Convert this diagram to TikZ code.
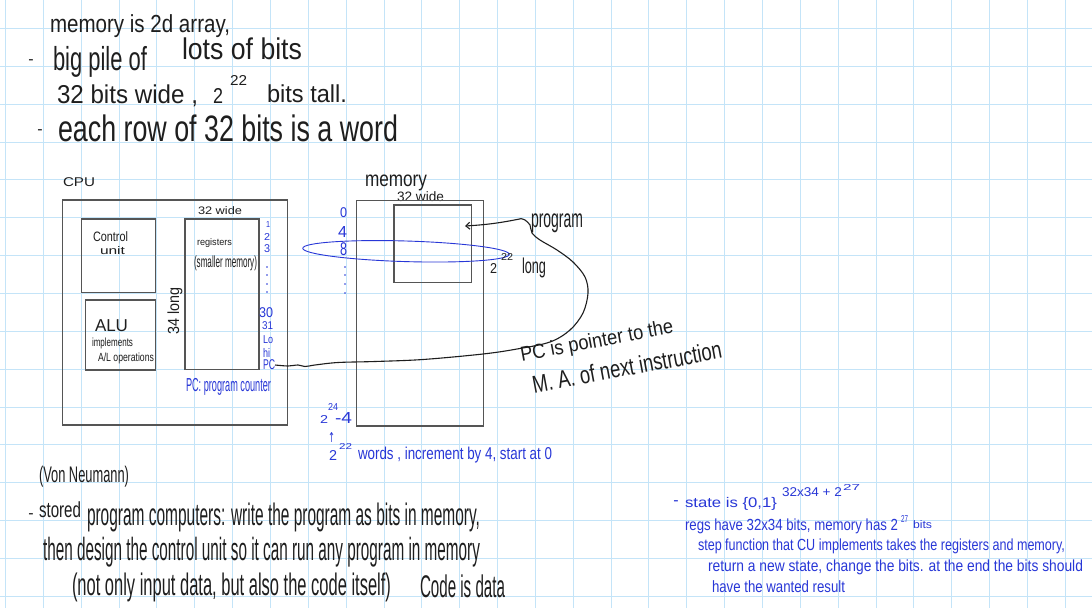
\documentclass[tikz,border=0pt]{standalone}
\usepackage{fontspec}
\usepackage{graphicx}
\setmainfont{Liberation Sans}
\newfontfamily\dejavu{DejaVu Sans}
\usetikzlibrary{arrows.meta}
\definecolor{gridc}{RGB}{196,228,248}
\definecolor{ink}{RGB}{30,30,30}
\definecolor{bink}{RGB}{40,55,215}
\definecolor{boxc}{RGB}{85,85,85}
\newcommand\hw[3]{\resizebox*{#1pt}{#2pt}{#3}}
\begin{document}
\begin{tikzpicture}[x=1pt,y=-1pt,
  gridline/.style={draw=gridc, line width=0.9pt},
  tx/.style={inner sep=0pt, outer sep=0pt, anchor=north west, text=ink},
  btx/.style={tx, text=bink},
  dashmark/.style={inner sep=0pt, font=\fontsize{16}{16}\selectfont},
  boxn/.style={draw=boxc, line width=1.5pt, inner sep=0pt, outer sep=0pt, anchor=north west},
  regdot/.style={fill=bink, draw=none},
  inkline/.style={draw=ink, line width=1.1pt}]
\useasboundingbox (0,0) rectangle (1092,608);
\fill[white] (0,0) rectangle (1092,608);
% grid
\foreach \i in {0,...,28} \draw[gridline] ({5.45+37.85*\i},0) -- ({5.45+37.85*\i},608);
\foreach \j in {0,...,15} \draw[gridline] (0,{28.5+37.85*\j}) -- (1092,{28.5+37.85*\j});

% top notes
\node[tx] (n1) at (50,15) {\hw{180}{23}{memory is 2d array,}};
\node[dashmark, text=ink] (d1) at (31,62) {-};
\node[tx] (n2) at (53,46) {\hw{94}{31}{big pile of}};
\node[tx] (n3) at (182,38) {\hw{120}{22}{lots of bits}};
\node[tx] (n4) at (57,85) {\hw{141}{22}{32 bits wide ,}};
\node[tx] (n5) at (213,88) {\hw{10}{15}{2}};
\node[tx] (n6) at (230,75) {\hw{17}{10}{22}};
\node[tx] (n7) at (267,85) {\hw{80}{18}{bits tall.}};
\node[dashmark, text=ink] (d2) at (40,132) {-};
\node[tx] (n8) at (58,115) {\hw{340}{27}{each row of 32 bits is a word}};

% CPU
\node[tx] (cpulab) at (63,178) {\hw{32}{9}{CPU}};
\node[boxn, minimum width=224.6pt, minimum height=225pt] (cpu) at (62.7,200) {};
\node[boxn, minimum width=74pt, minimum height=73.3pt] (cu) at (81.7,219) {};
\node[boxn, minimum width=70.4pt, minimum height=70pt] (alu) at (85.3,300) {};
\node[boxn, minimum width=74pt, minimum height=150.3pt] (regs) at (185,219) {};
\node[tx] (c1) at (93,232) {\hw{35}{10}{Control}};
\node[tx] (c2) at (100,247) {\hw{25}{8}{unit}};
\node[tx] (r0) at (198,207) {\hw{44}{8}{32 wide}};
\node[tx] (r1) at (197,238) {\hw{35}{9}{registers}};
\node[tx] (r2) at (194,256) {\hw{63}{15}{(smaller memory)}};
\node[inner sep=0pt, text=ink, rotate=90] (r3) at (175,311) {\hw{47}{15}{34 long}};
\node[tx] (a1) at (95,320) {\hw{33}{12}{ALU}};
\node[tx] (a2) at (92,338) {\hw{41}{11}{implements}};
\node[tx] (a3) at (98,353) {\hw{56}{11}{A/L operations}};
% register numbers
\node[btx] (g1) at (266,221) {\hw{4}{6}{1}};
\node[btx] (g2) at (264,233) {\hw{6}{7}{2}};
\node[btx] (g3) at (264,245) {\hw{6}{8}{3}};
\foreach \yy in {267,275,284,292} \fill[regdot] (267,\yy) circle (0.9);
\node[btx] (g30) at (259,308) {\hw{14}{10}{30}};
\node[btx] (g31) at (262,322) {\hw{11}{8}{31}};
\node[btx] (glo) at (263,336) {\hw{10}{8}{Lo}};
\node[btx] (ghi) at (263,348) {\hw{7}{9}{hi}};
\node[btx] (gpc) at (263,360) {\hw{12}{10}{PC}};
\node[btx] (pcc) at (186,378) {\hw{85}{17}{PC: program counter}};

% memory
\node[tx] (memlab) at (365,175) {\hw{62}{16}{memory}};
\node[tx] (memw) at (397,192) {\hw{47}{10}{32 wide}};
\node[boxn, minimum width=126.6pt, minimum height=225.3pt] (mem) at (356.7,200.7) {};
\node[boxn, minimum width=77.7pt, minimum height=77.7pt] (prog) at (394,205) {};
\draw[bink, line width=0.9pt, rotate around={-1.7:(406,251.3)}] (406,251.3) ellipse [x radius=103.3, y radius=10.3];
\node[btx] (m0) at (340,208) {\hw{7}{10}{0}};
\node[btx] (m4) at (338,226) {\hw{9}{11}{4}};
\node[btx] (m8) at (340,243) {\hw{7}{13}{8}};
\foreach \yy in {267,275,284,293} \fill[regdot] (345,\yy) circle (0.9);
\node[tx] (l1) at (490,263) {\hw{7}{10}{2}};
\node[tx] (l2) at (501,253) {\hw{12}{7}{22}};
\node[tx] (l3) at (522,258) {\hw{24}{20}{long}};
\node[btx] (e1) at (320,415) {\hw{8}{8}{2}};
\node[btx] (e2) at (328,403) {\hw{10}{7}{24}};
\node[btx] (e3) at (335,412) {\hw{17}{11}{-4}};
\node[btx] (up) at (328,432) {\hw{7}{10}{\dejavu ↑}};
\node[btx] (w1) at (329,450) {\hw{8}{10}{2}};
\node[btx] (w2) at (339,443) {\hw{13}{6}{22}};
\node[btx] (w3) at (358,447) {\hw{194}{16}{words , increment by 4, start at 0}};

% program pointer
\node[tx] (proglab) at (531,214) {\hw{52}{19}{program}};
\node[inner sep=0pt, text=ink, rotate=10.5] (pcp1) at (597,342) {\hw{155}{19}{PC is pointer to the}};
\node[inner sep=0pt, text=ink, rotate=10.5] (pcp2) at (627,367) {\hw{192}{18}{M. A. of next instruction}};
\coordinate (progtip) at (465,226);
\draw[inkline, -{Straight Barb[length=4pt,width=7pt]}]
  plot[smooth, tension=0.55] coordinates {(gpc.east) (288,366) (298,365) (305,366.5) (315,365) (338,362.5) (375,361.5) (423,359.5) (483,354) (517,349) (550,342) (570,330) (583,313) (588,293) (585,277) (573,262) (557,250) (540,240) (532,233) (530,225) (525,220) (521,218.7)}
  to[bend left=4] (progtip);

% bottom notes
\node[tx] (b1) at (39,466) {\hw{90}{21}{(Von Neumann)}};
\node[dashmark, text=ink] (d3) at (31,516) {-};
\node[tx] (b2) at (39,502) {\hw{42}{16}{stored}};
\node[tx] (b3) at (87,503) {\hw{393}{29}{program computers: write the program as bits in memory,}};
\node[tx] (b4) at (43,537) {\hw{437}{30}{then design the control unit so it can run any program in memory}};
\node[tx] (b5) at (72,573) {\hw{319}{29}{(not only input data, but also the code itself)}};
\node[tx] (b6) at (420,575) {\hw{85}{23}{Code is data}};

% right notes
\node[dashmark, text=bink] (d4) at (676,503) {-};
\node[btx] (s1) at (685,497) {\hw{92}{13}{state is \{0,1\}}};
\node[btx] (s2) at (782,488) {\hw{60}{9}{32x34 + 2}};
\node[btx] (s3) at (843,484) {\hw{17}{6}{27}};
\node[btx] (s4) at (685,519) {\hw{213}{15}{regs have 32x34 bits, memory has 2}};
\node[btx] (s5) at (901,515) {\hw{7}{7}{27}};
\node[btx] (s6) at (913,521) {\hw{19}{8}{bits}};
\node[btx] (s7) at (698,539) {\hw{367}{15}{step function that CU implements takes the registers and memory,}};
\node[btx] (s8) at (708,560) {\hw{375}{15}{return a new state, change the bits. at the end the bits should}};
\node[btx] (s9) at (712,581) {\hw{133}{12}{have the wanted result}};
\end{tikzpicture}
\end{document}
